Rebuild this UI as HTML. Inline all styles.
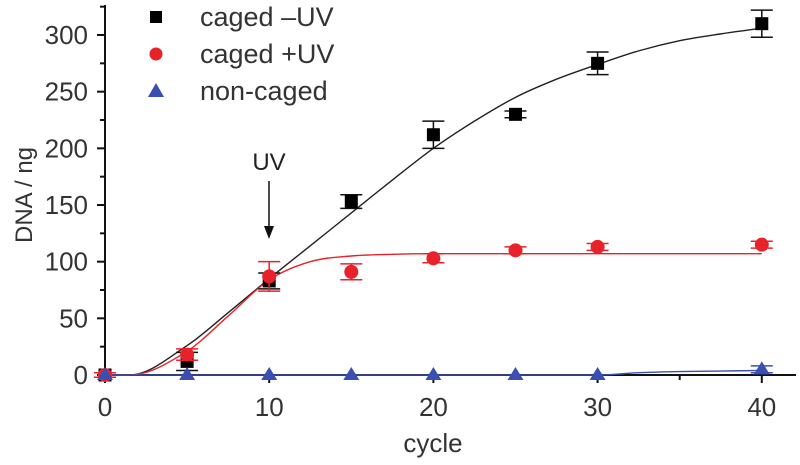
<!DOCTYPE html>
<html><head><meta charset="utf-8"><style>
body{margin:0;background:#fff;}
svg{display:block;font-family:"Liberation Sans",Arial,sans-serif;}
</style></head><body>
<svg id="chart" width="800" height="465" viewBox="0 0 800 465"></svg>
<script>
const cycles=[0,5,10,15,20,25,30,40];
const blackVals=[0,12,83,153,212,230,275,310];
const blackErr=[2,8,7,6,12,3,10,12];
const redVals=[0,18,87,91,103,110,113,115];
const redErr=[2,5,13,7,4,3,3,3];
const blueVals=[0,0,0,0,0,0,0,5];
const blueErr=[0,0,0,0,0,0,0,3];
const fitX=[0,1.5,5,7.5,10,12.5,15,17.5,20,22.5,25,27.5,30,32.5,35,37.5,40];
const blackFit=[0,0,26,55,85,114,143,172,200,224,245,261,274,286,295,301,306];
const redFit=[0,0,21,52,84,100,105,106.5,107,107,107,107,107,107,107,107,107];
const blueFit=[0,0,0,0,0,0,0,0,0,0,0,0,0,2,3,3.5,4];
const xTicks=[0,10,20,30,40];
const yTicks=[0,50,100,150,200,250,300];

const svg=document.getElementById('chart');
const NS='http://www.w3.org/2000/svg';
const X=v=>105+v*16.42;
const Y=v=>375-v*1.1333;
function mk(t,a,p){const e=document.createElementNS(NS,t);for(const k in a)e.setAttribute(k,a[k]);(p||svg).appendChild(e);return e;}

// axes
let ax=mk('line',{x1:105,y1:5,x2:105,y2:378,stroke:'#111','stroke-width':2});


ax=mk('line',{x1:104,y1:375,x2:796,y2:375,stroke:'#111','stroke-width':2});


for(let v=0;v<=325;v+=25){const t=mk('line',{x1:v%50==0?97:100,y1:Y(v),x2:105,y2:Y(v),stroke:'#111','stroke-width':2});

}
for(let v=0;v<=40;v+=5){const t=mk('line',{x1:X(v),y1:375,x2:X(v),y2:v%10==0?383:380,stroke:'#111','stroke-width':2});

}
yTicks.forEach(v=>{const t=mk('text',{x:88,y:Y(v)+9,'text-anchor':'end','font-size':26,fill:'#333'});t.textContent=v;

});
xTicks.forEach(v=>{const t=mk('text',{x:X(v),y:416,'text-anchor':'middle','font-size':26,fill:'#333'});t.textContent=v;

});
let t=mk('text',{x:433,y:452,'text-anchor':'middle','font-size':26,fill:'#333'});t.textContent='cycle';


t=mk('text',{x:0,y:0,'text-anchor':'middle','font-size':24,fill:'#333',transform:'translate(32,195) rotate(-90)'});t.textContent='DNA / ng';



// monotone cubic fits
function smooth(xs,ys){const n=xs.length,dx=[],s=[],m=[];
for(let i=0;i<n-1;i++){dx[i]=xs[i+1]-xs[i];s[i]=(ys[i+1]-ys[i])/dx[i];}
m[0]=s[0];m[n-1]=s[n-2];
for(let i=1;i<n-1;i++){m[i]=(s[i-1]*s[i]<=0)?0:(s[i-1]+s[i])/2;}
for(let i=0;i<n-1;i++){if(s[i]===0){m[i]=0;m[i+1]=0;continue;}const a=m[i]/s[i],b=m[i+1]/s[i],h=a*a+b*b;if(h>9){const k=3/Math.sqrt(h);m[i]=k*a*s[i];m[i+1]=k*b*s[i];}}
let d='M'+X(xs[0])+','+Y(ys[0]);
for(let i=0;i<n-1;i++){const h=dx[i]/3;
d+=` C${X(xs[i]+h)},${Y(ys[i]+m[i]*h)} ${X(xs[i+1]-h)},${Y(ys[i+1]-m[i+1]*h)} ${X(xs[i+1])},${Y(ys[i+1])}`;}return d;}
let f=mk('path',{d:smooth(fitX,blackFit),fill:'none',stroke:'#222','stroke-width':1.4});


f=mk('path',{d:smooth(fitX,redFit),fill:'none',stroke:'#e8222a','stroke-width':1.4});


f=mk('path',{d:smooth(fitX,blueFit),fill:'none',stroke:'#3a4fb0','stroke-width':1.4});



function errbar(x,v,e,c){if(e<=0)return;const g=mk('g',{stroke:c,'stroke-width':1.5});


mk('line',{x1:X(x),y1:Y(v-e),x2:X(x),y2:Y(v+e)},g);
mk('line',{x1:X(x)-11,y1:Y(v-e),x2:X(x)+11,y2:Y(v-e)},g);
mk('line',{x1:X(x)-11,y1:Y(v+e),x2:X(x)+11,y2:Y(v+e)},g);}
cycles.forEach((c,i)=>{errbar(c,blackVals[i],blackErr[i],'#111');
const m=mk('rect',{x:X(c)-6.5,y:Y(blackVals[i])-6.5,width:13,height:13,fill:'#000'});

});
cycles.forEach((c,i)=>{errbar(c,redVals[i],redErr[i],'#e8222a');
const m=mk('circle',{cx:X(c),cy:Y(redVals[i]),r:7,fill:'#e8222a'});

});
cycles.forEach((c,i)=>{errbar(c,blueVals[i],blueErr[i],'#3a4fb0');
const x=X(c),y=Y(blueVals[i]);
const m=mk('polygon',{points:`${x},${y-8} ${x-8},${y+5} ${x+8},${y+5}`,fill:'#3a4fb0'});

});

// UV annotation
t=mk('text',{x:269,y:170,'text-anchor':'middle','font-size':24,fill:'#222'});t.textContent='UV';


let a=mk('line',{x1:269,y1:181,x2:269,y2:228,stroke:'#111','stroke-width':1.5});


a=mk('polygon',{points:'264,226 274,226 269,239',fill:'#111'});



// legend
const lg=mk('g',{});


const names=['caged \u2013UV','caged +UV','non-caged'];
names.forEach((n,i)=>{const y=17+i*37;
let m;
if(i==0)m=mk('rect',{x:150,y:y-6,width:12,height:12,fill:'#000'},lg);
else if(i==1)m=mk('circle',{cx:156,cy:y,r:6.5,fill:'#e8222a'},lg);
else m=mk('polygon',{points:`156,${y-8} 148,${y+6} 164,${y+6}`,fill:'#3a4fb0'},lg);


const tx=mk('text',{x:200,y:y+9,'font-size':27,fill:'#333'},lg);tx.textContent=n;

});
</script>
</body></html>
